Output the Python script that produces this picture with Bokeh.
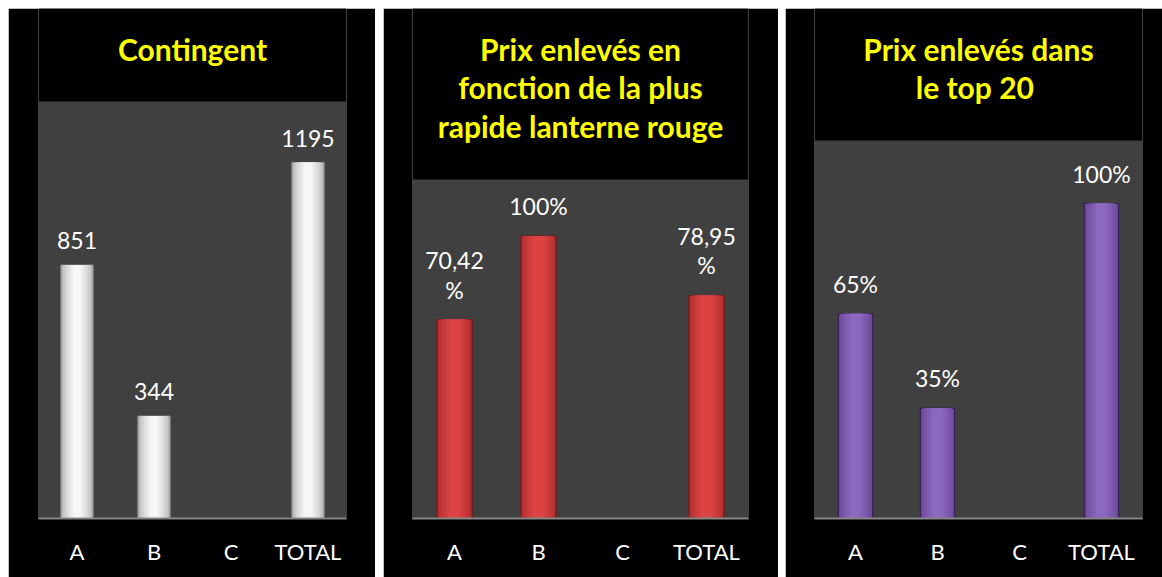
from bokeh.plotting import figure
from bokeh.models import ColumnDataSource, FactorRange, Range1d, Label, BoxAnnotation
from bokeh.layouts import row
from bokeh.embed import file_html
from bokeh.resources import INLINE
from bokeh.core.properties import value

categories = ["A", "B", "C", "TOTAL"]

contingent_values = [851, 344, None, 1195]
contingent_labels = ["851", "344", "", "1195"]

lanterne_values = [70.42, 100, None, 78.95]
lanterne_labels = ["70,42\n%", "100%", "", "78,95\n%"]

top20_values = [65, 35, None, 100]
top20_labels = ["65%", "35%", "", "100%"]

titles = ["Contingent",
          "Prix enlevés en\nfonction de la plus\nrapide lanterne rouge",
          "Prix enlevés dans\n le top 20"]


def blend(c1, c2, t):
    a = [int(c1[i:i + 2], 16) for i in (1, 3, 5)]
    b = [int(c2[i:i + 2], 16) for i in (1, 3, 5)]
    return "#" + "".join("%02x" % int(round(a[k] + (b[k] - a[k]) * t)) for k in range(3))


HEIGHT = 569
BOTTOM = 59


def make_panel(title, values, labels, ymax, width, left, right, gray_h,
               edge, center, outline, margin_left, title_dx=0):
    xs = [c for c, v in zip(categories, values) if v is not None]
    tops = [v for v in values if v is not None]
    labs = [l for l, v in zip(labels, values) if v is not None]
    src = ColumnDataSource(dict(x=xs, top=tops, label=labs))

    frame_h = HEIGHT - BOTTOM
    frame_w = width - left - right
    p = figure(x_range=FactorRange(*categories, range_padding=0),
               y_range=Range1d(0, ymax * frame_h / gray_h),
               width=width, height=HEIGHT,
               min_border_left=left, min_border_right=right,
               min_border_top=0, min_border_bottom=BOTTOM,
               y_axis_location=None,
               toolbar_location=None, output_backend="svg")
    p.margin = (8, 0, 0, margin_left)
    p.border_fill_color = "#000000"
    p.background_fill_color = "#000000"
    p.outline_line_color = None
    p.xgrid.visible = False
    p.ygrid.visible = False

    p.add_layout(BoxAnnotation(bottom=0, top=ymax, fill_color="#404040",
                               fill_alpha=1, line_color=None, level="underlay"))

    nlines = title.count("\n") + 1
    p.add_layout(Label(x=frame_w / 2 + title_dx,
                       y=frame_h - 40 - 19.5 * (nlines - 1),
                       x_units="screen", y_units="screen",
                       text=title, text_align="center",
                       text_baseline="alphabetic",
                       text_color="#ffff00", text_font="Lato",
                       text_font_size="30px", text_font_style="bold",
                       text_line_height=1.07))

    ax = p.xaxis[0]
    ax.axis_line_color = "#868686"
    ax.axis_line_width = 2
    ax.major_tick_line_color = None
    ax.major_tick_out = 0
    ax.major_tick_in = 0
    ax.minor_tick_line_color = None
    ax.major_label_text_color = "#ffffff"
    ax.major_label_text_font = "Lato"
    ax.major_label_text_font_size = "22px"
    ax.major_label_standoff = 19

    bw = 0.42
    n = 7
    for i in range(n):
        t = i / (n - 1)
        w = bw * (1 - 0.75 * t)
        col = blend(edge, center, t ** 0.7)
        p.vbar(x="x", top="top", width=w, source=src,
               fill_color=col, line_color=outline if i == 0 else None,
               line_width=1)

    p.text(x="x", y="top", text="label", source=src,
           text_align="center", text_baseline="bottom", y_offset=-16,
           text_color="#ffffff", text_font=value("Lato"),
           text_font_size="23px", text_line_height=1.07)
    return p


p1 = make_panel(titles[0], contingent_values, contingent_labels, 1400,
                367, 30, 29, 417, "#b4b4b4", "#f6f6f6", "#8a8a8a", 8)
p2 = make_panel(titles[1], lanterne_values, lanterne_labels, 120,
                395, 29, 30, 339, "#b02c2c", "#dc4444", "#6e1616", 8)
p3 = make_panel(titles[2], top20_values, top20_labels, 120,
                377, 29, 20, 378, "#694794", "#8c68c0", "#2e1a4e", 7)

layout = row(p1, p2, p3)
open("out.html", "w").write(file_html(layout, INLINE))
